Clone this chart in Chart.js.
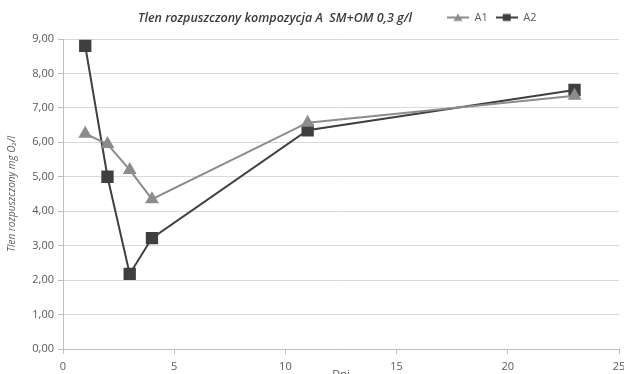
<!DOCTYPE html>
<html>
<head>
<meta charset="utf-8">
<script src="https://cdn.jsdelivr.net/npm/chart.js@4.4.1/dist/chart.umd.min.js"></script>
<style>
  html, body { margin: 0; padding: 0; background: #fff; }
  #frame { width: 624px; height: 374px; overflow: hidden; position: relative; }
  #box { width: 630px; height: 390px; position: absolute; left: 0; top: 0; }
</style>
</head>
<body>
<div id="frame"><div id="box"><canvas id="chart"></canvas></div></div>
<script>
// Data
const days = [1, 2, 3, 4, 11, 23];
const a1 = [6.25, 5.95, 5.20, 4.35, 6.57, 7.35];
const a2 = [8.80, 5.00, 2.18, 3.22, 6.35, 7.52];
const xTicks = [0, 5, 10, 15, 20, 25];
const yTicks = [0, 1, 2, 3, 4, 5, 6, 7, 8, 9];

const chartTitle = 'Tlen rozpuszczony kompozycja A  SM+OM 0,3 g/l';
const yTitle = 'Tlen rozpuszczony mg O\u2082/l';
const xTitle = 'Dni';

const colA1 = '#8c8c8c';
const colA2 = '#3f3f3f';

// legend marker: short line with the point in the middle
function legendMark(color, shape) {
    const c = document.createElement('canvas');
    c.width = 22; c.height = 10;
    const g = c.getContext('2d');
    g.strokeStyle = color;
    g.lineWidth = 2;
    g.beginPath(); g.moveTo(0, 5); g.lineTo(22, 5); g.stroke();
    g.fillStyle = color;
    g.beginPath();
    if (shape === 'triangle') {
        g.moveTo(11, 1); g.lineTo(15.5, 8.5); g.lineTo(6.5, 8.5);
    } else {
        g.rect(7, 1.5, 8, 7);
    }
    g.closePath(); g.fill();
    return c;
}

// title sits on the same row as the legend, left of it
const titleRow = {
    id: 'titleRow',
    afterLayout(chart) {
        const lg = chart.legend;
        const dx = 439 - lg.left;
        lg.left += dx; lg.right += dx;
        lg.top -= 6; lg.bottom -= 6;
    },
    afterDraw(chart) {
        const ctx = chart.ctx;
        ctx.save();
        ctx.font = 'italic 600 12.5px "Open Sans"';
        ctx.fillStyle = '#3a3a3a';
        ctx.textAlign = 'center';
        ctx.textBaseline = 'middle';
        ctx.fillText(chartTitle, 275, 18);
        ctx.restore();
    }
};

const fmt = v => v.toFixed(2).replace('.', ',');

new Chart(document.getElementById('chart'), {
    type: 'line',
    data: {
        datasets: [{
            label: 'A1',
            data: days.map((d, i) => ({ x: d, y: a1[i] })),
            borderColor: colA1,
            backgroundColor: colA1,
            borderWidth: 2,
            pointStyle: 'triangle',
            pointRadius: 6,
            pointHoverRadius: 6
        }, {
            label: 'A2',
            data: days.map((d, i) => ({ x: d, y: a2[i] })),
            borderColor: colA2,
            backgroundColor: colA2,
            borderWidth: 2,
            pointStyle: 'rect',
            pointRadius: 7.3,
            pointHoverRadius: 7.3
        }]
    },
    options: {
        responsive: true,
        maintainAspectRatio: false,
        animation: false,
        layout: { padding: { left: 0, right: 11, top: 0, bottom: 0 } },
        plugins: {
            legend: {
                position: 'top',
                align: 'start',
                labels: {
                    usePointStyle: true,
                    pointStyleWidth: 22,
                    padding: 8,
                    color: '#595959',
                    font: { family: '"Open Sans"', size: 11 },
                    generateLabels: chart => chart.data.datasets.map((ds, i) => ({
                        text: ds.label,
                        pointStyle: legendMark(ds.borderColor, ds.pointStyle),
                        fontColor: '#595959',
                        lineWidth: 0,
                        strokeStyle: 'transparent',
                        fillStyle: 'transparent',
                        datasetIndex: i
                    }))
                }
            },
            tooltip: { enabled: false }
        },
        scales: {
            x: {
                type: 'linear',
                min: 0,
                max: 25,
                afterBuildTicks: s => { s.ticks = xTicks.map(v => ({ value: v })); },
                afterFit: s => { s.height = 41; s.paddingLeft = 0; s.paddingRight = 0; },
                grid: { drawOnChartArea: false, drawTicks: true, tickLength: 5, color: '#bfbfbf' },
                border: { color: '#bfbfbf', width: 1 },
                ticks: { color: '#595959', padding: 6, font: { family: '"Open Sans"', size: 11 } },
                title: {
                    display: true,
                    text: xTitle,
                    color: '#595959',
                    font: { family: '"Open Sans"', size: 11 },
                    padding: { top: 0, bottom: 9 }
                }
            },
            y: {
                min: 0,
                max: 9,
                afterBuildTicks: s => { s.ticks = yTicks.map(v => ({ value: v })); },
                afterFit: s => { s.width = 63; s.paddingTop = 39; },
                grid: { color: '#d9d9d9', tickLength: 5, tickColor: '#bfbfbf' },
                border: { color: '#bfbfbf', width: 1 },
                ticks: { color: '#595959', padding: 4, callback: fmt, font: { family: '"Open Sans"', size: 11 } },
                title: {
                    display: true,
                    text: yTitle,
                    color: '#595959',
                    font: { family: '"Open Sans"', size: 10, style: 'italic' },
                    padding: { top: 6, bottom: 0 }
                }
            }
        }
    },
    plugins: [titleRow]
});
</script>
</body>
</html>
